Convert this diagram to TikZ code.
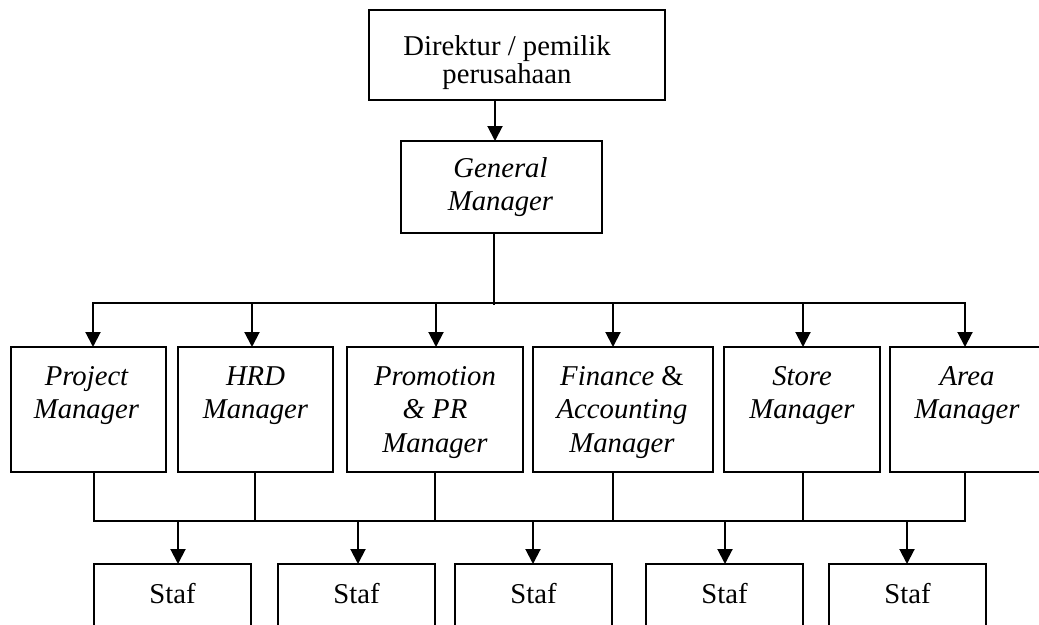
\documentclass[tikz,border=0pt]{standalone}
\usepackage{fontspec}
\setmainfont{Liberation Serif}
\usetikzlibrary{arrows.meta,calc}
\begin{document}
\begin{tikzpicture}[x=1pt,y=-1pt,
  box/.style={draw, line width=2pt, inner sep=0pt, outer sep=0pt, anchor=north west, minimum height=#1},
  box/.default=125pt,
  txt/.style={anchor=base, inner sep=0pt, font=\fontsize{28.7}{33.2}\selectfont},
  link/.style={line width=2pt},
  bus/.style={line width=2pt, line cap=rect},
  arr/.style={line width=2pt, -{Triangle[width=15pt,length=15pt]}}]
\useasboundingbox (0,0) rectangle (1039,624);
\clip (0,0) rectangle (1039,624);

% top level
\node[box=90pt, minimum width=296pt] (dir) at (369,10) {};
\node[txt, font=\fontsize{28.7}{27}\selectfont] (dir-t) at ($(dir.north)+(-10,45)$)
  {\begin{tabular}[t]{@{}c@{}}Direktur / pemilik\\perusahaan\end{tabular}};
\node[box=92pt, minimum width=201pt] (gm) at (401,141) {};
\node[txt] (gm-t) at ($(gm.north)+(-1,36)$)
  {\begin{tabular}[t]{@{}c@{}}\itshape General\\\itshape Manager\end{tabular}};

% managers
\node[box, minimum width=155pt] (pm) at (11,347) {};
\node[box, minimum width=155pt] (hrd) at (178,347) {};
\node[box, minimum width=176pt] (pr) at (347,347) {};
\node[box, minimum width=180pt] (fin) at (533,347) {};
\node[box, minimum width=156pt] (sm) at (724,347) {};
\node[box, minimum width=154pt] (am) at (890,347) {};
\node[txt] (pm-t) at ($(pm.north)+(-2,38)$)
  {\begin{tabular}[t]{@{}c@{}}\itshape Project\\\itshape Manager\end{tabular}};
\node[txt] (hrd-t) at ($(hrd.north)+(0,38)$)
  {\begin{tabular}[t]{@{}c@{}}\itshape HRD\\\itshape Manager\end{tabular}};
\node[txt, font=\fontsize{28.7}{33.5}\selectfont] (pr-t) at ($(pr.north)+(0,38)$)
  {\begin{tabular}[t]{@{}c@{}}\itshape Promotion\\\itshape \& PR\\\itshape Manager\end{tabular}};
\node[txt, font=\fontsize{28.7}{33.5}\selectfont] (fin-t) at ($(fin.north)+(-1,38)$)
  {\begin{tabular}[t]{@{}c@{}}\itshape Finance \upshape\&\\\itshape Accounting\\\itshape Manager\end{tabular}};
\node[txt] (sm-t) at ($(sm.north)+(0,38)$)
  {\begin{tabular}[t]{@{}c@{}}\itshape Store\\\itshape Manager\end{tabular}};
\node[txt] (am-t) at ($(am.north)+(0,38)$)
  {\begin{tabular}[t]{@{}c@{}}\itshape Area\\\itshape Manager\end{tabular}};

% staff
\foreach \n/\x in {s1/94, s2/278, s3/455, s4/646, s5/829}{
  \node[box=100pt, minimum width=157pt] (\n) at (\x,564) {};
  \node[txt] (\n-t) at ($(\n.north)+(0,39)$) {Staf};
}

% director to general manager
\coordinate (ax) at (495,0);
\draw[arr] (dir.south -| ax) -- (gm.north -| ax);

% general manager to managers
\coordinate (gx) at (494,0);
\coordinate (b1) at (93,303);
\coordinate (b2) at (252,303);
\coordinate (b3) at (436,303);
\coordinate (b4) at (613,303);
\coordinate (b5) at (803,303);
\coordinate (b6) at (965,303);
\draw[link] (gm.south -| gx) -- ($(b1 -| gx)+(0,2)$);
\draw[bus] (b1) -- (b6);
\draw[arr] (b1) -- (pm.north -| b1);
\draw[arr] (b2) -- (hrd.north -| b2);
\draw[arr] (b3) -- (pr.north -| b3);
\draw[arr] (b4) -- (fin.north -| b4);
\draw[arr] (b5) -- (sm.north -| b5);
\draw[arr] (b6) -- (am.north -| b6);

% managers to staff
\coordinate (c1) at (94,521);
\coordinate (c2) at (255,521);
\coordinate (c3) at (435,521);
\coordinate (c4) at (613,521);
\coordinate (c5) at (803,521);
\coordinate (c6) at (965,521);
\draw[link] (pm.south -| c1) -- (c1);
\draw[link] (hrd.south -| c2) -- (c2);
\draw[link] (pr.south -| c3) -- (c3);
\draw[link] (fin.south -| c4) -- (c4);
\draw[link] (sm.south -| c5) -- (c5);
\draw[link] (am.south -| c6) -- (c6);
\draw[bus] (c1) -- (c6);
\foreach \n/\x in {s1/178, s2/358, s3/533, s4/725, s5/907}{
  \coordinate (\n-a) at (\x,521);
  \draw[arr] (\n-a) -- (\n.north -| \n-a);
}
\end{tikzpicture}
\end{document}
